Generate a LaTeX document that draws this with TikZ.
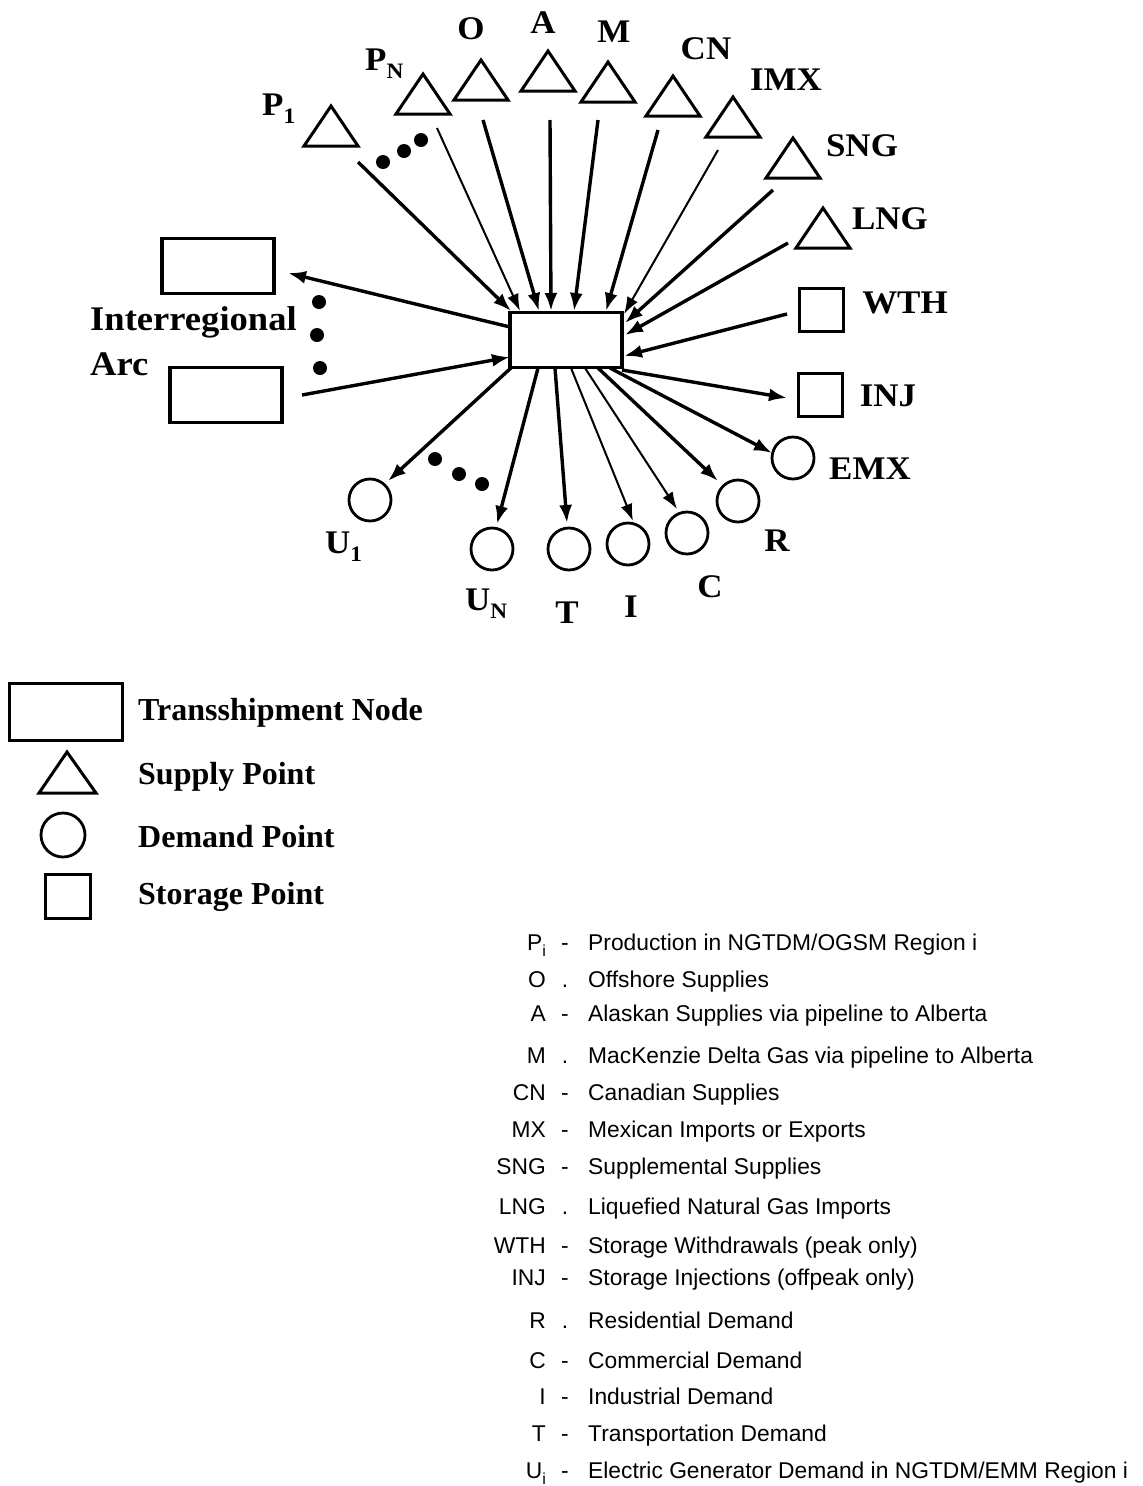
\documentclass[tikz,border=0pt]{standalone}
\usepackage{fontspec}
\setmainfont{Liberation Serif}
\newfontfamily\keyfont{Liberation Sans}
\newfontfamily\labfont[FakeStretch=1.06]{Liberation Serif}
\usetikzlibrary{arrows.meta}
\newcommand\lsub[1]{\raisebox{-0.25em}{\fontsize{22}{22}\selectfont #1}}
\newcommand\ksub[1]{\raisebox{-0.3em}{\fontsize{16}{16}\selectfont #1}}
\begin{document}
\begin{tikzpicture}[x=1pt,y=-1pt,
  arr/.style={line width=3.4pt,-{Latex[length=18pt,width=13pt]}},
  tarr/.style={line width=2pt,-{Latex[length=17pt,width=12pt]}},
  shp/.style={draw,line width=3pt,line join=miter},
  lab/.style={font=\labfont\bfseries\fontsize{33}{36}\selectfont, inner sep=0pt},
  leg/.style={font=\bfseries\fontsize{32}{36}\selectfont, anchor=west, inner sep=0pt},
  key/.style={font=\keyfont\fontsize{22.8}{26}\selectfont, inner sep=0pt},
  kab/.style={key, anchor=base east},
  kda/.style={key, anchor=base},
  kde/.style={key, anchor=base west},
  dot/.style={circle,fill,minimum size=14pt,inner sep=0pt},
  dem/.style={circle,draw,line width=2.8pt,minimum size=42pt,inner sep=0pt},
  sto/.style={rectangle,draw,line width=3pt,minimum width=44pt,minimum height=43pt,inner sep=0pt},
  box/.style={rectangle,draw,line width=3.2pt,minimum width=112pt,minimum height=55pt,inner sep=0pt}
]
\useasboundingbox (0,0) rectangle (1143,1486);

% ---------- hub and interregional boxes
\node[box] (hub) at (566,340) {};
\node[box] (irA) at (218,266) {};
\node[box] (irB) at (226,395) {};

% ---------- supply triangles (apex coordinates)
\foreach \n/\x/\y in {tP1/331/106, tPN/423/74, tO/481/60, tA/548/51, tM/608/62,
                      tCN/673/76, tIMX/733/97, tSNG/793/138, tLNG/823/208}{
  \coordinate (\n) at (\x,\y);
  \draw[shp] (\n) -- ++(-27,40) -- ++(54,0) -- cycle;
}

% ---------- storage squares
\node[sto] (WTH) at (821,310) {};
\node[sto] (INJ) at (820,395) {};

% ---------- demand circles
\node[dem] (EMX) at (793,458) {};
\node[dem] (R)   at (738,501) {};
\node[dem] (C)   at (687,533) {};
\node[dem] (I)   at (628,544) {};
\node[dem] (T)   at (569,549) {};
\node[dem] (UN)  at (492,549) {};
\node[dem] (U1)  at (370,500) {};

% ---------- dots
\node[dot] (d1) at (383,162) {};
\node[dot] (d2) at (404,151) {};
\node[dot] (d3) at (421,140) {};
\node[dot] (d4) at (319,302) {};
\node[dot] (d5) at (317,335) {};
\node[dot] (d6) at (320,368) {};
\node[dot] (d7) at (435,459) {};
\node[dot] (d8) at (459,474) {};
\node[dot] (d9) at (482,484) {};

% ---------- connector end points
\coordinate (sP1) at (358,162);  \coordinate (eP1) at (511,311);
\coordinate (sPN) at (437,128);  \coordinate (ePN) at (520,311);
\coordinate (sO)  at (483,120);  \coordinate (eO)  at (539,311);
\coordinate (sA)  at (550,120);  \coordinate (eA)  at (551,311);
\coordinate (sM)  at (598,120);  \coordinate (eM)  at (574,311);
\coordinate (sCN) at (658,130);  \coordinate (eCN) at (606,311);
\coordinate (sIMX) at (718,150); \coordinate (eIMX) at (624,314);
\coordinate (sSNG) at (773,190); \coordinate (eSNG) at (625,323);
\coordinate (sLNG) at (788,243); \coordinate (eLNG) at (625,335);
\coordinate (sWTH) at (787,314); \coordinate (eWTH) at (624,356);
\coordinate (hL1) at (510,327);  \coordinate (eIA) at (288,273);
\coordinate (sIB) at (302,395);  \coordinate (hL2) at (510,357);
\coordinate (hINJ) at (622,370); \coordinate (eINJ) at (787,398);
\coordinate (hEMX) at (610,368); \coordinate (eEMX) at (772,453);
\coordinate (hR) at (598,368);   \coordinate (eR) at (718,481);
\coordinate (hC) at (585,368);   \coordinate (eC) at (677,509);
\coordinate (hI) at (571,368);   \coordinate (eI) at (633,521);
\coordinate (hT) at (555,368);   \coordinate (eT) at (567,523);
\coordinate (hUN) at (538,368);  \coordinate (eUN) at (497,524);
\coordinate (hU1) at (512,367);  \coordinate (eU1) at (388,481);

% ---------- connectors
\draw[arr]  (sP1) -- (eP1);
\draw[tarr] (sPN) -- (ePN);
\draw[arr]  (sO) -- (eO);
\draw[arr]  (sA) -- (eA);
\draw[arr]  (sM) -- (eM);
\draw[arr]  (sCN) -- (eCN);
\draw[tarr] (sIMX) -- (eIMX);
\draw[arr]  (sSNG) -- (eSNG);
\draw[arr]  (sLNG) -- (eLNG);
\draw[arr]  (sWTH) -- (eWTH);
\draw[arr]  (hL1) -- (eIA);
\draw[arr]  (sIB) -- (hL2);
\draw[arr]  (hINJ) -- (eINJ);
\draw[arr]  (hEMX) -- (eEMX);
\draw[arr]  (hR) -- (eR);
\draw[tarr] (hC) -- (eC);
\draw[tarr] (hI) -- (eI);
\draw[arr]  (hT) -- (eT);
\draw[arr]  (hUN) -- (eUN);
\draw[arr]  (hU1) -- (eU1);

% ---------- labels
\node[lab,anchor=base west] (lP1) at (262,115) {P\lsub{1}};
\node[lab,anchor=base west] (lPN) at (365,70) {P\lsub{N}};
\node[lab] (lO) at (471,29) {O};
\node[lab] (lA) at (543,23) {A};
\node[lab] (lM) at (614,32) {M};
\node[lab] (lCN) at (706,49) {CN};
\node[lab] (lIMX) at (786,80) {IMX};
\node[lab] (lSNG) at (862,146) {SNG};
\node[lab] (lLNG) at (890,219) {LNG};
\node[lab] (lWTH) at (905,303) {WTH};
\node[lab] (lINJ) at (888,396) {INJ};
\node[lab] (lEMX) at (870,469) {EMX};
\node[lab] (lR) at (777,541) {R};
\node[lab] (lC) at (710,587) {C};
\node[lab] (lI) at (631,607) {I};
\node[lab] (lT) at (567,613) {T};
\node[lab,anchor=base west] (lUN) at (465,610) {U\lsub{N}};
\node[lab,anchor=base west] (lU1) at (325,553) {U\lsub{1}};
\node[lab,anchor=base west,font=\labfont\bfseries\fontsize{34.5}{36}\selectfont] (lIR) at (90,330) {Interregional};
\node[lab,anchor=base west,font=\labfont\bfseries\fontsize{34.5}{36}\selectfont] (lArc) at (90,375) {Arc};

% ---------- legend
\node[box,line width=2.8pt,minimum width=113pt,minimum height=57pt] (gBox) at (66,712) {};
\coordinate (gTri) at (67,752);
\draw[shp] (gTri) -- ++(-28,41) -- ++(57,0) -- cycle;
\node[dem,minimum size=44pt] (gCirc) at (63,835) {};
\node[sto,minimum width=45pt,minimum height=44pt] (gSq) at (68,896) {};
\node[leg] (gt1) at (138,713) {Transshipment Node};
\node[leg] (gt2) at (138,777) {Supply Point};
\node[leg] (gt3) at (138,837) {Demand Point};
\node[leg] (gt4) at (138,897) {Storage Point};

% ---------- key
\foreach \i/\ab/\da/\tx/\yy in {
  1/{P\ksub{i}}/-/{Production in NGTDM/OGSM Region i}/950,
  2/O/./{Offshore Supplies}/987,
  3/A/-/{Alaskan Supplies via pipeline to Alberta}/1021,
  4/M/./{MacKenzie Delta Gas via pipeline to Alberta}/1063,
  5/CN/-/{Canadian Supplies}/1100,
  6/MX/-/{Mexican Imports or Exports}/1137,
  7/SNG/-/{Supplemental Supplies}/1174,
  8/LNG/./{Liquefied Natural Gas Imports}/1214,
  9/WTH/-/{Storage Withdrawals (peak only)}/1253,
  10/INJ/-/{Storage Injections (offpeak only)}/1285,
  11/R/./{Residential Demand}/1328,
  12/C/-/{Commercial Demand}/1368,
  13/I/-/{Industrial Demand}/1404,
  14/T/-/{Transportation Demand}/1441,
  15/{U\ksub{i}}/-/{Electric Generator Demand in NGTDM/EMM Region i}/1478}{
  \node[kab] (ka\i) at (546,\yy) {\ab};
  \node[kda] (kd\i) at (565,\yy) {\da};
  \node[kde] (kt\i) at (588,\yy) {\tx};
}
\end{tikzpicture}
\end{document}
